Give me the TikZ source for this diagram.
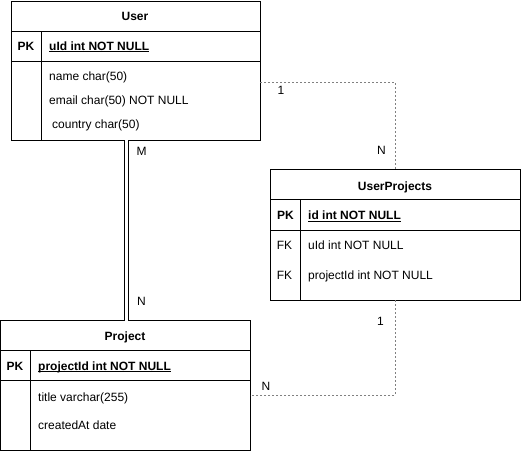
\documentclass[tikz,border=0pt]{standalone}
\usepackage{fontspec}
\setmainfont{Liberation Sans}
\usetikzlibrary{positioning}

\tikzset{
  tbl/.style={draw,line width=1pt,inner sep=0pt,outer sep=0pt},
  rule/.style={line width=1pt},
  txt/.style={anchor=base west,inner sep=0pt},
  key/.style={anchor=base,inner sep=0pt},
  head/.style={anchor=base,inner sep=0pt,font=\fontsize{12}{14}\selectfont\bfseries},
  card/.style={anchor=base west,inner sep=0pt},
  rel/.style={draw=gray,line width=0.8pt,dash pattern=on 2pt off 2pt}
}
\newcommand{\pkfield}[1]{\textbf{\underline{\smash{#1}}}}

\begin{document}
\begin{tikzpicture}[x=1pt,y=-1pt,font=\fontsize{12}{14}\selectfont]
\useasboundingbox (0,0) rectangle (521,451);
% User
\node[tbl,minimum width=249pt,minimum height=139pt] (user) at (135.5,70.5) {};
\draw[rule] (user.west |- 0,31) -- (user.east |- 0,31);
\draw[rule] (user.west |- 0,61) -- (user.east |- 0,61);
\draw[rule] (41,31) -- (41,0 |- user.south);
\node[head] (userh) at (135,20) {User};
\node[head] (userpk) at (26,50) {PK};
\node[txt] (uid) at (49,50) {\pkfield{uId int NOT NULL}};
\node[txt] (uname) at (49,80) {name char(50)};
\node[txt] (uemail) at (49,104.5) {email char(50) NOT NULL};
\node[txt] (ucountry) at (52,128.5) {country char(50)};
% UserProjects
\node[tbl,minimum width=250pt,minimum height=131pt] (up) at (395,234.5) {};
\draw[rule] (up.west |- 0,199.5) -- (up.east |- 0,199.5);
\draw[rule] (up.west |- 0,230) -- (up.east |- 0,230);
\draw[rule] (300.5,199.5) -- (300.5,0 |- up.south);
\node[head] (uph) at (395,190.5) {UserProjects};
\node[head] (uppk) at (285.5,219.5) {PK};
\node[txt] (upid) at (308,219.5) {\pkfield{id int NOT NULL}};
\node[key] (upfk1) at (284.5,249.5) {FK};
\node[txt] (upuid) at (308,249.5) {uId int NOT NULL};
\node[key] (upfk2) at (284.5,279.3) {FK};
\node[txt] (uppid) at (308,279.3) {projectId int NOT NULL};
% Project
\node[tbl,minimum width=249.5pt,minimum height=129.5pt] (proj) at (125.25,385.25) {};
\draw[rule] (proj.west |- 0,350.5) -- (proj.east |- 0,350.5);
\draw[rule] (proj.west |- 0,380) -- (proj.east |- 0,380);
\draw[rule] (30.5,350.5) -- (30.5,0 |- proj.south);
\node[head] (projh) at (125,340) {Project};
\node[head] (projpk) at (15,370) {PK};
\node[txt] (pid) at (38,370) {\pkfield{projectId int NOT NULL}};
\node[txt] (ptitle) at (38,401.5) {title varchar(255)};
\node[txt] (pcreated) at (38,429.5) {createdAt date};
% relations
\coordinate (mn) at (126.2,0);
\draw[line width=0.9pt,double,double distance=3.2pt] (user.south -| mn) -- (proj.north -| mn);
\draw[rel] (user.east |- 0,82) -| (up.north);
\draw[rel] (up.south) |- (proj.east |- 0,395);
\node[card] (cm) at (136.5,155) {M};
\node[card] (cn) at (137,305) {N};
\node[card] (c1a) at (277.5,94) {1};
\node[card] (cna) at (377,154) {N};
\node[card] (c1b) at (377,325) {1};
\node[card] (cnb) at (261.5,390.5) {N};
\end{tikzpicture}
\end{document}
